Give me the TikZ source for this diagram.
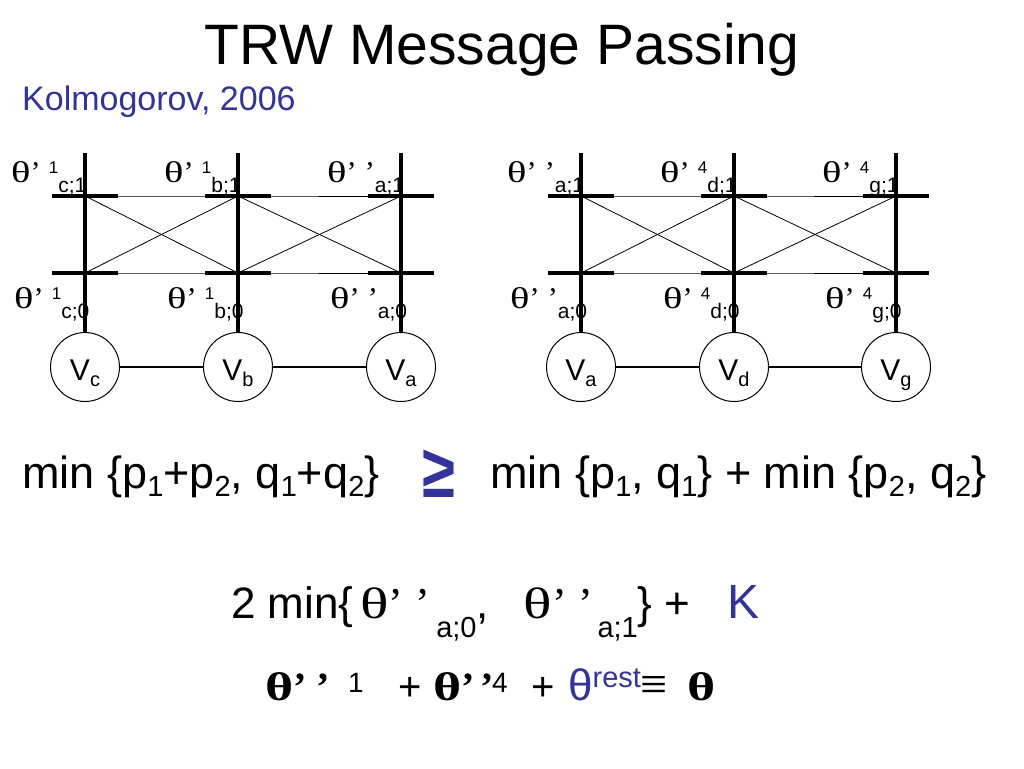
\documentclass[tikz,border=0pt]{standalone}
\usepackage{fontspec}
\usepackage{graphicx}
\setmainfont{Liberation Sans}
\newfontfamily\thfont{Liberation Serif}
\usetikzlibrary{positioning}

\definecolor{kblue}{RGB}{51,51,153}
\newcommand{\fs}[1]{\fontsize{#1}{#1}\selectfont}
\newcommand{\lowtx}[3]{\raisebox{-#1pt}{\fs{#2}#3}}
\newcommand{\uptx}[3]{\raisebox{#1pt}{\fs{#2}#3}}
\newcommand{\thet}{{\thfont\scalebox{1.35}[1]{θ}}}
\newcommand{\thetb}{{\thfont\bfseries\scalebox{1.35}[1]{θ}}}
\newcommand{\plab}[2]{\fs{30}\thet{\thfont’} {#1}\lowtx{10}{21}{#2}}

\tikzset{
  bar/.style={line width=4.8pt},
  wire/.style={line width=0.8pt},
  link/.style={line width=2.5pt},
  vnode/.style={circle, draw, line width=1pt, minimum size=69pt, inner sep=0pt,
    text height=34pt, text depth=8pt, font=\fs{30}},
  lab/.style={anchor=base west, inner sep=0pt}
}

\begin{document}
\begin{tikzpicture}[x=1pt, y=-1pt]
\useasboundingbox (0,0) rectangle (1024,768);

\node[anchor=base, inner sep=0pt, font=\fs{57}] (title) at (502,64) {TRW Message Passing};
\node[lab, font=\fs{34}, text=kblue] (cite) at (22,110) {Kolmogorov, 2006};

% left chain: c - b - a
\coordinate (lcT) at (85,153);
\coordinate (lc1) at (85,196);
\coordinate (lc0) at (85,273);
\coordinate (lbT) at (238,153);
\coordinate (lb1) at (238,196);
\coordinate (lb0) at (238,273);
\coordinate (laT) at (401,153);
\coordinate (la1) at (401,196);
\coordinate (la0) at (401,273);

\node[vnode] (vc) at (85,367) {V\lowtx{6}{20}{c}};
\node[vnode] (vb) at (238,367) {V\lowtx{6}{20}{b}};
\node[vnode] (va) at (401,367) {V\lowtx{6}{20}{a}};

\draw[wire] (lc1) -- (lb1) -- (la1);
\draw[wire] (lc0) -- (lb0) -- (la0);
\draw[wire] (lc1) -- (lb0);
\draw[wire] (lc0) -- (lb1);
\draw[wire] (lb1) -- (la0);
\draw[wire] (lb0) -- (la1);

\draw[bar] (lcT) -- (vc);
\draw[bar] (lbT) -- (vb);
\draw[bar] (laT) -- (va);
\draw[bar] ([xshift=-33pt]lc1) -- ([xshift=33pt]lc1);
\draw[bar] ([xshift=-33pt]lc0) -- ([xshift=33pt]lc0);
\draw[bar] ([xshift=-33pt]lb1) -- ([xshift=33pt]lb1);
\draw[bar] ([xshift=-33pt]lb0) -- ([xshift=33pt]lb0);
\draw[bar] ([xshift=-33pt]la1) -- ([xshift=33pt]la1);
\draw[bar] ([xshift=-33pt]la0) -- ([xshift=33pt]la0);

\draw[link] (vc) -- (vb);
\draw[link] (vb) -- (va);

\node[lab] (tc1) at ([xshift=-74pt,yshift=14pt]lc1) {\plab{\uptx{9}{17}{1}}{c;1}};
\node[lab] (tb1) at ([xshift=-74pt,yshift=14pt]lb1) {\plab{\uptx{9}{17}{1}}{b;1}};
\node[lab] (ta1) at ([xshift=-74pt,yshift=14pt]la1) {\plab{\thfont’}{a;1}};
\node[lab] (tc0) at ([xshift=-71pt,yshift=-35pt]lc0) {\plab{\uptx{9}{17}{1}}{c;0}};
\node[lab] (tb0) at ([xshift=-71pt,yshift=-35pt]lb0) {\plab{\uptx{9}{17}{1}}{b;0}};
\node[lab] (ta0) at ([xshift=-71pt,yshift=-35pt]la0) {\plab{\thfont’}{a;0}};

% right chain: a - d - g
\coordinate (raT) at (581,153);
\coordinate (ra1) at (581,196);
\coordinate (ra0) at (581,273);
\coordinate (rdT) at (734,153);
\coordinate (rd1) at (734,196);
\coordinate (rd0) at (734,273);
\coordinate (rgT) at (896,153);
\coordinate (rg1) at (896,196);
\coordinate (rg0) at (896,273);

\node[vnode] (vra) at (581,367) {V\lowtx{6}{20}{a}};
\node[vnode] (vd) at (734,367) {V\lowtx{6}{20}{d}};
\node[vnode] (vg) at (896,367) {V\lowtx{6}{20}{g}};

\draw[wire] (ra1) -- (rd1) -- (rg1);
\draw[wire] (ra0) -- (rd0) -- (rg0);
\draw[wire] (ra1) -- (rd0);
\draw[wire] (ra0) -- (rd1);
\draw[wire] (rd1) -- (rg0);
\draw[wire] (rd0) -- (rg1);

\draw[bar] (raT) -- (vra);
\draw[bar] (rdT) -- (vd);
\draw[bar] (rgT) -- (vg);
\draw[bar] ([xshift=-33pt]ra1) -- ([xshift=33pt]ra1);
\draw[bar] ([xshift=-33pt]ra0) -- ([xshift=33pt]ra0);
\draw[bar] ([xshift=-33pt]rd1) -- ([xshift=33pt]rd1);
\draw[bar] ([xshift=-33pt]rd0) -- ([xshift=33pt]rd0);
\draw[bar] ([xshift=-33pt]rg1) -- ([xshift=33pt]rg1);
\draw[bar] ([xshift=-33pt]rg0) -- ([xshift=33pt]rg0);

\draw[link] (vra) -- (vd);
\draw[link] (vd) -- (vg);

\node[lab] (sa1) at ([xshift=-74pt,yshift=14pt]ra1) {\plab{\thfont’}{a;1}};
\node[lab] (sd1) at ([xshift=-74pt,yshift=14pt]rd1) {\plab{\uptx{9}{17}{4}}{d;1}};
\node[lab] (sg1) at ([xshift=-74pt,yshift=14pt]rg1) {\plab{\uptx{9}{17}{4}}{g;1}};
\node[lab] (sa0) at ([xshift=-71pt,yshift=-35pt]ra0) {\plab{\thfont’}{a;0}};
\node[lab] (sd0) at ([xshift=-71pt,yshift=-35pt]rd0) {\plab{\uptx{9}{17}{4}}{d;0}};
\node[lab] (sg0) at ([xshift=-71pt,yshift=-35pt]rg0) {\plab{\uptx{9}{17}{4}}{g;0}};

% inequality
\node[lab, font=\fs{45}] (ineqL) at (22,488) {min \{p\lowtx{8}{29}{1}+p\lowtx{8}{29}{2}, q\lowtx{8}{29}{1}+q\lowtx{8}{29}{2}\}};
\node[inner sep=0pt, font=\fs{75}\bfseries, text=kblue] (geq) at (439,474) {\scalebox{0.8}[1]{≥}};
\node[lab, font=\fs{45}] (ineqR) at (490,488) {min \{p\lowtx{8}{29}{1}, q\lowtx{8}{29}{1}\} + min \{p\lowtx{8}{29}{2}, q\lowtx{8}{29}{2}\}};

% bound and decomposition
\node[lab, font=\fs{44}] (bound) at (231,618) {2 min\{\hspace{7pt}{\thet{\thfont’\hspace{12pt}’}}\hspace{6pt}\lowtx{19}{29}{a;0},\hspace{35pt}{\thet{\thfont’\hspace{12pt}’}}\hspace{4pt}\lowtx{19}{29}{a;1}\} + \hspace{25pt}{\fs{48}\color{kblue}K}};
\node[lab, font=\fs{40}] (ident) at (265,700) {\thetb{\thfont\bfseries’ ’}\hspace{18pt}\uptx{8}{28}{1}\hspace{24pt} + \thetb{\thfont\bfseries’\hspace{6pt}’}\hspace{-2pt}\uptx{8}{28}{4}\hspace{13pt} + \hspace{2pt}{\color{kblue}{\fs{44}θ}\uptx{13}{29}{rest}}{\thfont\fs{48}≡}\hspace{8pt} \thetb};
\end{tikzpicture}
\end{document}
